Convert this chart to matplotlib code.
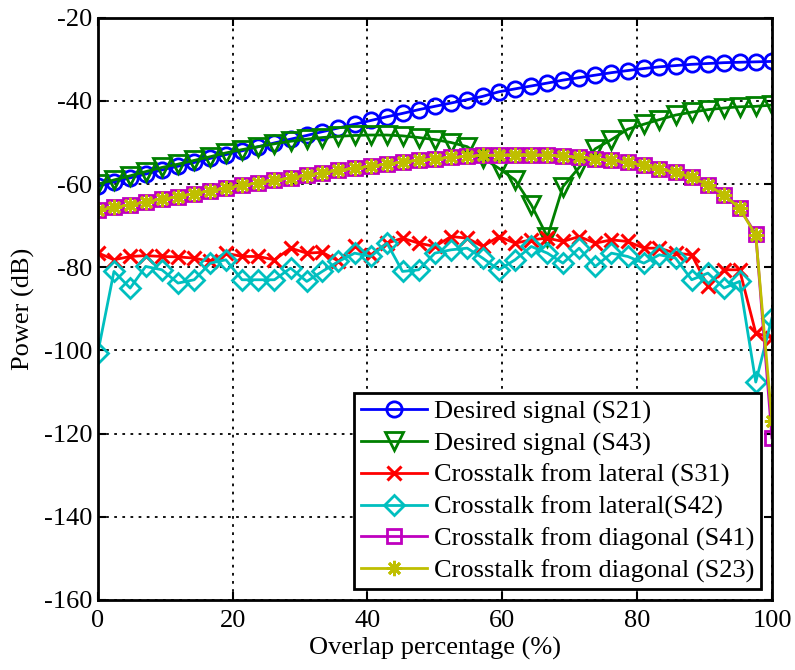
import numpy as np
import matplotlib
matplotlib.use("Agg")
import matplotlib.pyplot as plt

plt.rcParams['font.family'] = ['Liberation Serif', 'DejaVu Serif']
plt.rcParams['axes.unicode_minus'] = False

# ------------------------------------------------------------
# data
# ------------------------------------------------------------
overlap = [0.0, 2.4, 4.8, 7.1, 9.5, 11.9, 14.3, 16.7, 19.0, 21.4, 23.8,
           26.2, 28.6, 31.0, 33.3, 35.7, 38.1, 40.5, 42.9, 45.2, 47.6,
           50.0, 52.4, 54.8, 57.1, 59.5, 61.9, 64.3, 66.7, 69.0, 71.4,
           73.8, 76.2, 78.6, 81.0, 83.3, 85.7, 88.1, 90.5, 92.9, 95.2,
           97.6, 100.0]

s21 = [-60.5, -59.5, -58.5, -57.6, -56.6, -55.7, -54.8, -53.8, -52.9, -52.0,
       -51.0, -50.1, -49.2, -48.3, -47.4, -46.5, -45.6, -44.7, -43.8, -43.0,
       -42.1, -41.3, -40.5, -39.7, -38.9, -37.8, -37.1, -36.4, -35.7, -35.0,
       -34.4, -33.8, -33.2, -32.7, -32.2, -31.8, -31.5, -31.2, -31.0, -30.8,
       -30.7, -30.6, -30.5]

s43 = [-60.0, -59.0, -58.0, -57.0, -56.0, -55.2, -54.3, -53.4, -52.5, -51.7,
       -51.0, -50.3, -49.7, -49.2, -48.8, -48.5, -48.3, -48.2, -48.2, -48.4,
       -48.8, -49.3, -50.0, -51.0, -53.7, -56.2, -59.0, -65.0, -72.7, -60.6,
       -56.0, -51.5, -49.3, -46.8, -45.6, -44.5, -43.4, -42.7, -42.1, -41.7,
       -41.4, -41.3, -41.0]

s31 = [-76.5, -78.2, -77.4, -77.2, -77.4, -77.5, -77.8, -78.6, -76.6, -77.4,
       -77.4, -78.2, -75.4, -76.6, -76.4, -78.5, -75.0, -77.0, -74.2, -73.0,
       -74.2, -75.0, -72.6, -73.0, -75.0, -72.6, -74.2, -73.4, -73.0, -73.8,
       -72.6, -74.2, -73.4, -73.8, -75.4, -75.4, -76.6, -77.0, -84.6, -80.6,
       -80.6, -95.8, -97.0]

s42 = [-100.6, -81.0, -85.0, -79.8, -80.6, -83.8, -83.0, -79.0, -78.2, -83.0,
       -83.0, -83.0, -80.2, -83.4, -81.0, -78.6, -76.6, -77.4, -74.2, -81.0,
       -80.6, -76.6, -75.8, -75.4, -77.8, -80.6, -78.2, -75.0, -76.6, -79.0,
       -75.4, -79.8, -76.6, -77.4, -79.0, -77.0, -77.8, -83.0, -81.4, -85.0,
       -83.4, -107.6, -92.2]

s41 = [-66.3, -65.6, -65.0, -64.3, -63.6, -63.0, -62.3, -61.6, -61.0, -60.3,
       -59.7, -59.1, -58.5, -57.9, -57.3, -56.7, -56.2, -55.7, -55.2, -54.7,
       -54.3, -53.9, -53.6, -53.3, -53.1, -53.0, -52.9, -52.9, -53.0, -53.2,
       -53.5, -53.9, -54.3, -54.8, -55.5, -56.3, -57.2, -58.4, -60.2, -62.6,
       -65.8, -72.0, -121.0]

s23 = [-66.3, -65.6, -65.0, -64.3, -63.6, -63.0, -62.3, -61.6, -61.0, -60.3,
       -59.7, -59.1, -58.5, -57.9, -57.3, -56.7, -56.2, -55.7, -55.2, -54.7,
       -54.3, -53.9, -53.6, -53.3, -53.1, -53.0, -52.9, -52.9, -53.0, -53.2,
       -53.5, -53.9, -54.3, -54.8, -55.5, -56.3, -57.2, -58.4, -60.2, -62.6,
       -65.8, -72.3, -117.0]

labels = ["Desired signal (S21)", "Desired signal (S43)",
          "Crosstalk from lateral (S31)", "Crosstalk from lateral(S42)",
          "Crosstalk from diagonal (S41)", "Crosstalk from diagonal (S23)"]

# ------------------------------------------------------------
# plot
# ------------------------------------------------------------
fig = plt.figure(figsize=(7.95, 6.70), dpi=100)
ax = fig.add_axes([0.123, 0.1045, 0.848, 0.869])

lw = 2.0
ms = 11
ax.plot(overlap, s21, '-o', color=(0, 0, 1), lw=lw, ms=ms, mfc='none', mew=2, label=labels[0])
ax.plot(overlap, s43, '-v', color=(0, 0.5, 0), lw=lw, ms=ms + 2, mfc='none', mew=2, label=labels[1])
ax.plot(overlap, s31, '-x', color=(1, 0, 0), lw=lw, ms=ms - 1, mew=2.2, label=labels[2])
ax.plot(overlap, s42, '-D', color=(0, 0.75, 0.75), lw=lw, ms=ms - 1, mfc='none', mew=2, label=labels[3])
ax.plot(overlap, s41, '-s', color=(0.75, 0, 0.75), lw=lw, ms=ms - 1, mfc='none', mew=2, label=labels[4])
ax.plot(overlap, s23, '-', marker=(8, 2, 0), color=(0.75, 0.75, 0), lw=lw, ms=ms, mew=2, label=labels[5])

ax.set_xlim(0, 100)
ax.set_ylim(-160, -20)
ax.set_xticks(np.arange(0, 101, 20))
ax.set_yticks(np.arange(-160, -19, 20))

ax.grid(True, color='black', linestyle=(0, (1.5, 3)), linewidth=1.3)
ax.tick_params(direction='in', length=6, width=1.5, top=True, right=True,
               labelsize=19)
ax.tick_params(axis='x', pad=7)
ax.tick_params(axis='y', pad=4)
for sp in ax.spines.values():
    sp.set_linewidth(2)

ax.set_xlabel("Overlap percentage (%)", fontsize=19, labelpad=4)
ax.set_ylabel("Power (dB)", fontsize=19, labelpad=6)

leg = ax.legend(loc='lower right', fontsize=19, frameon=True, fancybox=False,
                edgecolor='black', framealpha=1, handlelength=2.5,
                borderpad=0.25, labelspacing=0.3, handletextpad=0.3,
                borderaxespad=0.4)
leg.get_frame().set_linewidth(2)

plt.savefig("out.png", dpi=100)
plt.close()
